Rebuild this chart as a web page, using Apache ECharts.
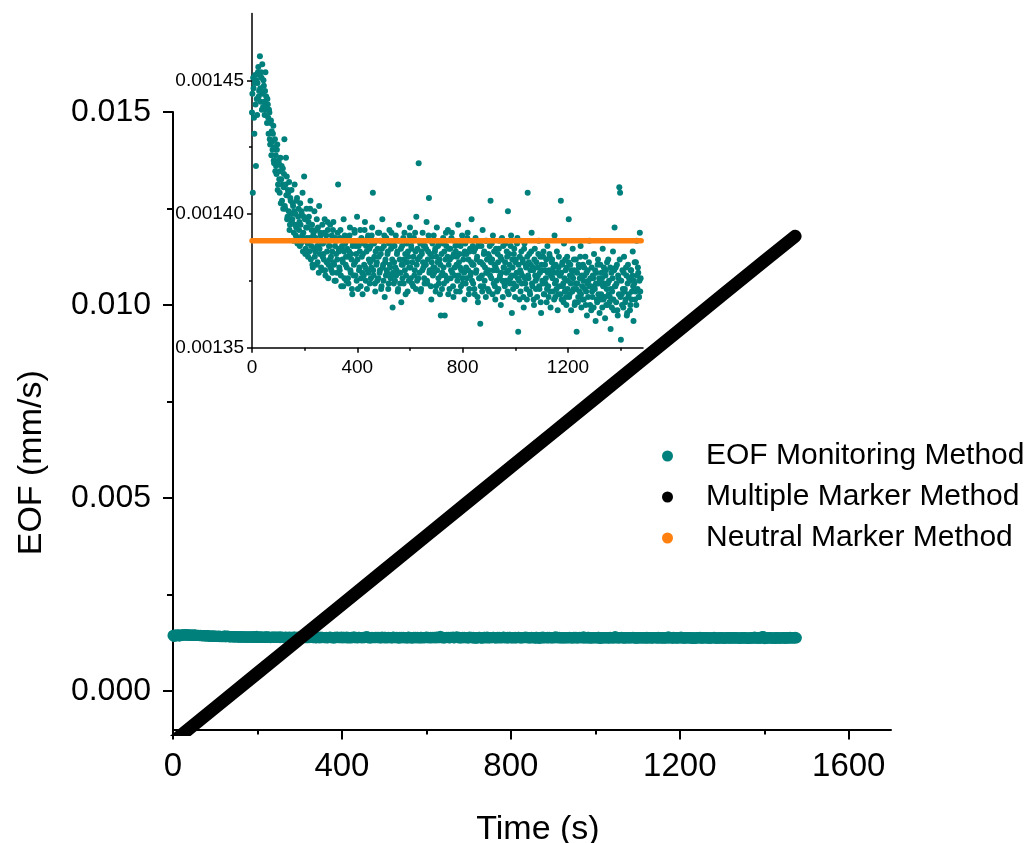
<!DOCTYPE html>
<html>
<head>
<meta charset="utf-8">
<script src="https://cdn.jsdelivr.net/npm/echarts@6/dist/echarts.min.js"></script>
<style>
  html, body { margin: 0; padding: 0; background: #ffffff; }
  #chart { width: 1032px; height: 843px; }
</style>
</head>
<body>
<div id="chart"></div>
<script>
// EOF monitoring method: one reading every 1.5 s, stored in nm/s
const EOF_STEP_S = 1.5;
const eofNmPerS = [
  1438,1445,1408,1451,1447,1436,1430,1449,1452,1441,1418,1450,1443,1437,1449,1453,1455,1444,1446,1452,
  1459,1447,1442,1453,1451,1439,1456,1445,1440,1450,1448,1442,1437,1446,1453,1439,1444,1441,1434,1443,
  1441,1436,1430,1439,1438,1428,1426,1434,1435,1422,1431,1427,1424,1430,1433,1420,1419,1425,1428,1416,
  1422,1418,1415,1424,1426,1409,1411,1420,1419,1413,1408,1416,1421,1404,1413,1418,1405,1411,1417,1402,
  1410,1415,1428,1403,1402,1411,1421,1407,1414,1398,1399,1409,1408,1401,1412,1394,1396,1406,1405,1400,
  1409,1397,1398,1404,1403,1390,1393,1401,1411,1396,1400,1392,1395,1405,1406,1389,1391,1399,1402,1394,
  1397,1388,1404,1396,1389,1401,1400,1392,1408,1386,1393,1399,1414,1390,1398,1385,1387,1395,1402,1391,
  1395,1389,1384,1397,1399,1386,1391,1402,1405,1383,1388,1394,1396,1381,1380,1392,1393,1387,1401,1384,
  1386,1391,1394,1381,1398,1388,1382,1395,1390,1378,1403,1387,1385,1393,1392,1380,1379,1389,1396,1384,
  1389,1385,1383,1393,1398,1379,1377,1390,1392,1382,1386,1397,1394,1376,1381,1388,1388,1383,1396,1380,
  1384,1379,1392,1386,1378,1394,1397,1382,1381,1375,1388,1391,1375,1385,1390,1378,1383,1393,1411,1387,
  1386,1380,1379,1391,1394,1377,1373,1387,1388,1383,1382,1373,1398,1386,1376,1392,1389,1381,1384,1375,
  1380,1387,1391,1376,1374,1384,1386,1392,1395,1379,1378,1385,1383,1372,1370,1388,1389,1377,1381,1394,
  1393,1382,1377,1388,1385,1375,1399,1383,1372,1390,1388,1379,1380,1386,1394,1373,1376,1391,1384,1378,
  1370,1385,1389,1377,1381,1394,1397,1380,1375,1388,1386,1372,1379,1391,1392,1378,1383,1387,1374,1382,
  1388,1376,1380,1392,1395,1383,1408,1379,1377,1389,1384,1374,1371,1386,1390,1381,1382,1375,1387,1393,
  1376,1384,1393,1378,1379,1390,1385,1372,1373,1387,1398,1380,1381,1375,1388,1392,1369,1382,1383,1377,
  1391,1379,1378,1385,1386,1372,1374,1389,1394,1381,1380,1376,1387,1393,1377,1383,1365,1378,1389,1374,
  1382,1388,1375,1380,1392,1377,1379,1385,1386,1371,1372,1390,1396,1378,1383,1374,1378,1387,1367,1381,
  1388,1376,1381,1391,1374,1383,1393,1379,1385,1370,1377,1389,1390,1382,1371,1386,1384,1375,1380,1392,
  1395,1380,1376,1388,1387,1374,1382,1390,1373,1384,1391,1377,1379,1393,1386,1372,1399,1381,1375,1387,
  1383,1376,1419,1390,1378,1384,1389,1371,1372,1386,1385,1379,1393,1382,1380,1388,1376,1374,1388,1381,
  1381,1387,1397,1375,1374,1383,1386,1392,1406,1378,1379,1385,1390,1373,1368,1382,1384,1389,1377,1380,
  1392,1378,1380,1386,1387,1371,1373,1384,1395,1379,1382,1388,1376,1374,1389,1383,1370,1381,1362,1377,
  1385,1372,1378,1389,1391,1380,1374,1386,1362,1377,1383,1393,1388,1375,1376,1384,1394,1370,1381,1387,
  1372,1383,1387,1376,1379,1391,1393,1378,1384,1373,1369,1385,1390,1380,1377,1388,1386,1371,1381,1384,
  1375,1389,1396,1377,1382,1385,1371,1380,1388,1373,1379,1390,1392,1376,1374,1383,1385,1378,1368,1386,
  1389,1374,1380,1385,1376,1391,1393,1379,1383,1370,1372,1386,1387,1377,1378,1382,1398,1375,1381,1388,
  1374,1381,1386,1372,1370,1387,1391,1378,1379,1383,1384,1369,1367,1388,1389,1376,1376,1382,1359,1373,
  1382,1388,1377,1371,1394,1381,1373,1385,1386,1375,1380,1390,1369,1378,1390,1383,1378,1372,1385,1379,
  1371,1384,1388,1377,1405,1382,1376,1389,1383,1370,1392,1379,1374,1386,1381,1373,1368,1380,1387,1375,
  1379,1371,1385,1382,1372,1387,1390,1376,1377,1384,1366,1378,1383,1391,1375,1369,1388,1380,1380,1374,
  1373,1382,1389,1375,1378,1386,1384,1371,1401,1379,1370,1385,1381,1374,1376,1388,1392,1377,1363,1383,
  1380,1372,1374,1385,1387,1377,1369,1382,1383,1373,1378,1389,1391,1376,1356,1381,1375,1368,1384,1379,
  1371,1378,1386,1374,1377,1383,1382,1369,1365,1387,1389,1376,1374,1381,1380,1372,1368,1384,1408,1377,
  1376,1382,1385,1371,1370,1379,1381,1386,1393,1374,1373,1380,1379,1368,1366,1383,1387,1377,1375,1372,
  1382,1376,1369,1380,1377,1385,1390,1373,1372,1378,1384,1367,1363,1381,1379,1375,1374,1384,1386,1370,
  1370,1379,1381,1374,1376,1383,1367,1372,1388,1378,1373,1369,1379,1385,1384,1371,1365,1377,1377,1382,
  1383,1376,1371,1380,1378,1368,1392,1374,1369,1381,1375,1372,1386,1378,1364,1370,1380,1384,1373,1377,
  1377,1370,1405,1378,1368,1381,1382,1373,1374,1367,1389,1376,1371,1383,1379,1369,1366,1380,1384,1372,
  1375,1382,1398,1369,1370,1377,1381,1374,1364,1379,1377,1371,1387,1376,1372,1383,1379,1366,1367,1374,
  1383,1372,1356,1378,1374,1367,1369,1381,1380,1371,1376,1384,1388,1370,1365,1377,1373,1368,1381,1375,
  1368,1380,1377,1372,1384,1366,1371,1378,1362,1374,1379,1369,1375,1382,1390,1373,1366,1376,1373,1364,
  1380,1371,1369,1377,1376,1365,1385,1373,1372,1379,1360,1374,1378,1368,1367,1381,1383,1370,1374,1376,
  1363,1375,1381,1368,1370,1378,1376,1365,1387,1373,1368,1380,1374,1369,1361,1377,1379,1366,1372,1382,
  1366,1374,1383,1370,1375,1367,1369,1380,1357,1372,1378,1365,1371,1376,1386,1368,1364,1379,1395,1373,
  1373,1380,1367,1374,1381,1364,1362,1377,1376,1370,1410,1383,1408,1369,1353,1375,1370,1366,1379,1372,
  1365,1378,1384,1371,1372,1367,1368,1380,1377,1362,1363,1374,1381,1369,1370,1376,1375,1364,1366,1379,
  1379,1368,1371,1377,1386,1373,1360,1375,1374,1382,1368,1371,1382,1366,1390,1377,1372,1380,1378,1369,
  1369,1375,1393,1371,1376
];

// Multiple marker method (s, mm/s)
const markerTime = [0, 100, 200, 300, 400, 500, 600, 700, 800, 900, 1000, 1100, 1200, 1300, 1400, 1473];
const markerValue = [-0.00132, -0.00043, 0.00046, 0.00135, 0.00224, 0.00313, 0.00402, 0.00491,
                     0.00580, 0.00669, 0.00758, 0.00847, 0.00936, 0.01025, 0.01114, 0.01178];

// Neutral marker method (s, mm/s)
const neutralTime = [0, 1478];
const neutralValue = [0.00139, 0.00139];

// Tick positions
const mainXTicks = [0, 400, 800, 1200, 1600];
const mainXMinor = [200, 600, 1000, 1400];
const mainYTicks = [0, 0.005, 0.010, 0.015];
const mainYMinor = [0.0025, 0.0075, 0.0125];
const insetXTicks = [0, 400, 800, 1200];
const insetXMinor = [200, 600, 1000, 1400];
const insetYTicks = [0.00135, 0.00140, 0.00145];
const insetYMinor = [0.001375, 0.001425];

const seriesNames = ['EOF Monitoring Method', 'Multiple Marker Method', 'Neutral Marker Method'];

const TEAL = '#00807c';
const ORANGE = '#ff800e';
const FONT = 'Arial, "Liberation Sans", Helvetica, sans-serif';

// nm/s -> mm/s
const eofData = eofNmPerS.map((v, i) => [i * EOF_STEP_S, v * 1e-6]);
const markerData = markerTime.map((t, i) => [t, markerValue[i]]);
const neutralData = neutralTime.map((t, i) => [t, neutralValue[i]]);

function axisBase(gridIndex, min, max, pos, lineW) {
  return {
    type: 'value', gridIndex, min, max, position: pos,
    axisLine: { show: true, onZero: false, lineStyle: { color: '#000', width: lineW } },
    splitLine: { show: false },
    minorTick: { show: false }
  };
}

function majorAxis(gridIndex, min, max, pos, lineW, ticks, tickLen, fontSize, margin, fmt) {
  const a = axisBase(gridIndex, min, max, pos, lineW);
  a.axisTick = { show: true, inside: false, length: tickLen, customValues: ticks,
                 lineStyle: { color: '#000', width: lineW } };
  a.axisLabel = { show: true, customValues: ticks, color: '#000', fontFamily: FONT,
                  fontSize, margin, formatter: fmt };
  return a;
}

// Extra axis carrying only the short minor ticks
function minorAxis(gridIndex, min, max, pos, lineW, ticks, tickLen) {
  const a = axisBase(gridIndex, min, max, pos, lineW);
  a.axisLine = { show: false, onZero: false };
  a.axisTick = { show: true, inside: false, length: tickLen, customValues: ticks,
                 lineStyle: { color: '#000', width: lineW } };
  a.axisLabel = { show: false };
  return a;
}

const xMain = majorAxis(0, 0, 1700, 'bottom', 2, mainXTicks, 10, 33, 21, v => String(v));
xMain.name = 'Time (s)';
xMain.nameLocation = 'middle';
xMain.nameGap = 83;
xMain.nameTextStyle = { fontFamily: FONT, fontSize: 34, color: '#000', padding: [0, 0, 0, 12] };

const yMain = majorAxis(0, -0.001, 0.015, 'left', 2, mainYTicks, 10, 32, 22, v => v.toFixed(3));
yMain.name = 'EOF (mm/s)';
yMain.nameLocation = 'middle';
yMain.nameGap = 124;
yMain.nameTextStyle = { fontFamily: FONT, fontSize: 34, color: '#000', padding: [0, 84, 0, 0] };

const option = {
  animation: false,
  backgroundColor: '#ffffff',
  grid: [
    { left: 173, right: 141, top: 112, bottom: 113.5, outerBoundsMode: 'none' },
    { left: 252, top: 13.5, width: 391, height: 334.2, outerBoundsMode: 'none' }
  ],
  legend: {
    orient: 'vertical',
    left: 657,
    top: 436,
    itemWidth: 11,
    itemHeight: 11,
    itemGap: 11,
    icon: 'circle',
    data: seriesNames,
    textStyle: { fontFamily: FONT, fontSize: 30, color: '#000', padding: [0, 0, 0, 28] }
  },
  xAxis: [
    xMain,
    minorAxis(0, 0, 1700, 'bottom', 2, mainXMinor, 5),
    majorAxis(1, 0, 1485, 'bottom', 1.5, insetXTicks, 5, 19, 11, v => String(v)),
    minorAxis(1, 0, 1485, 'bottom', 1.5, insetXMinor, 3)
  ],
  yAxis: [
    yMain,
    minorAxis(0, -0.001, 0.015, 'left', 2, mainYMinor, 6),
    majorAxis(1, 0.00135, 0.001475, 'left', 1.5, insetYTicks, 5, 19, 8, v => v.toFixed(5)),
    minorAxis(1, 0.00135, 0.001475, 'left', 1.5, insetYMinor, 3)
  ],
  series: [
    {
      name: seriesNames[0], type: 'scatter', xAxisIndex: 0, yAxisIndex: 0,
      data: eofData, symbolSize: 11, itemStyle: { color: TEAL, opacity: 1 }, z: 2
    },
    {
      name: seriesNames[1], type: 'line', xAxisIndex: 0, yAxisIndex: 0,
      data: markerData, showSymbol: false, symbol: 'circle', clip: true,
      itemStyle: { color: '#000' },
      lineStyle: { color: '#000', width: 13, cap: 'round', join: 'round' }, z: 3
    },
    {
      name: seriesNames[0], type: 'scatter', xAxisIndex: 2, yAxisIndex: 2,
      data: eofData, symbolSize: 6, itemStyle: { color: TEAL, opacity: 1 }, z: 2
    },
    {
      name: seriesNames[2], type: 'line', xAxisIndex: 2, yAxisIndex: 2,
      data: neutralData, showSymbol: false, symbol: 'circle', clip: true,
      itemStyle: { color: ORANGE },
      lineStyle: { color: ORANGE, width: 5.5, cap: 'round' }, z: 3
    }
  ]
};

const chart = echarts.init(document.getElementById('chart'), null, { renderer: 'canvas' });
chart.setOption(option);
</script>
</body>
</html>
